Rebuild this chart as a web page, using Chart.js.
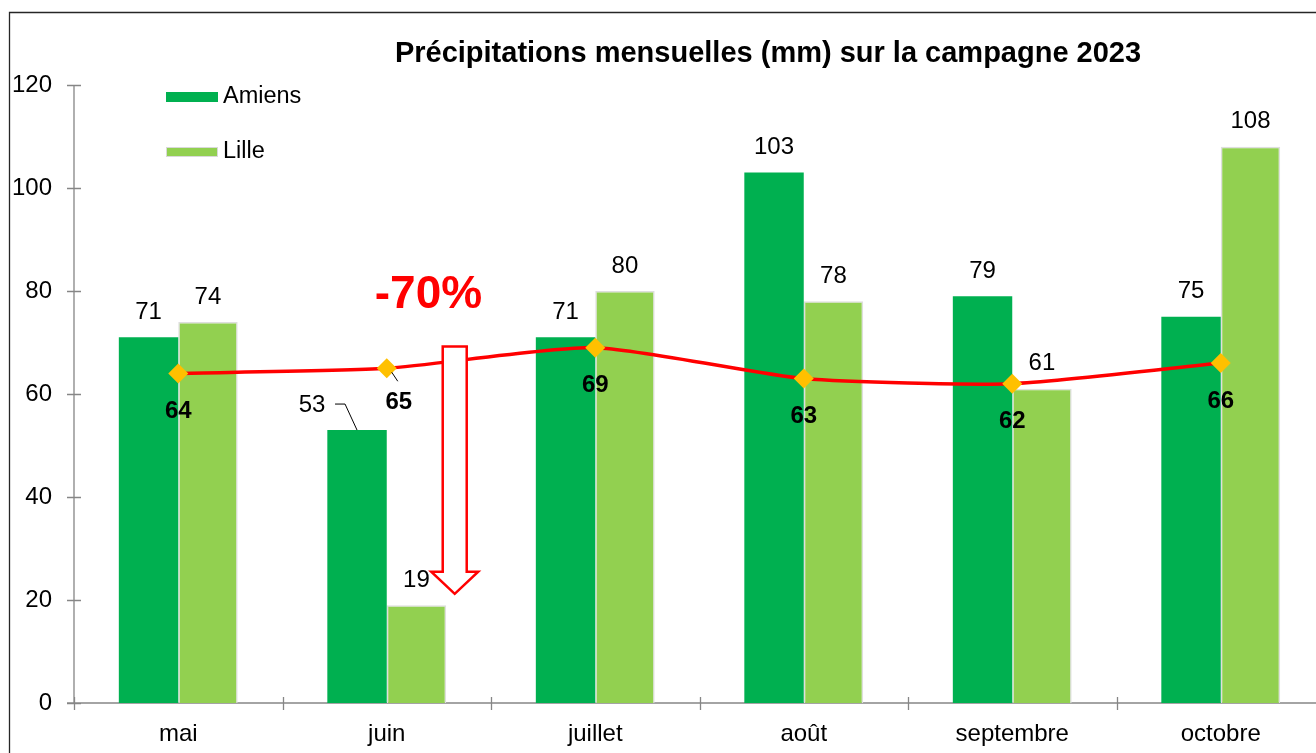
<!DOCTYPE html>
<html>
<head>
<meta charset="utf-8">
<script src="https://cdn.jsdelivr.net/npm/chart.js@4.4.1/dist/chart.umd.min.js"></script>
<style>
    html, body { margin: 0; padding: 0; background: #fff; overflow: hidden; }
    #wrap { position: absolute; left: 0; top: 0; width: 1340px; height: 753px; }
</style>
</head>
<body>
<div id="wrap"><canvas id="chart"></canvas></div>
<script>
const months = ['mai', 'juin', 'juillet', 'août', 'septembre', 'octobre'];
const amiens = [71, 53, 71, 103, 79, 75];
const lille = [74, 19, 80, 78, 61, 108];
const average = [64, 65, 69, 63, 62, 66];
const yTicks = [0, 20, 40, 60, 80, 100, 120];

const titleText = 'Précipitations mensuelles (mm) sur la campagne 2023';
const dropText = '-70%';
const FONT = 'Arial, "Liberation Sans", sans-serif';

// draws everything Excel put around the bars: frame, axes with cross ticks, labels, arrow, legend
const decorations = {
    id: 'decorations',
    beforeDatasetsDraw(chart) {
        const { ctx, chartArea: a, scales: { x, y } } = chart;
        ctx.save();
        // outer frame
        ctx.strokeStyle = '#262626';
        ctx.lineWidth = 1.3;
        ctx.beginPath();
        ctx.moveTo(9.5, 800);
        ctx.lineTo(9.5, 12.5);
        ctx.lineTo(1400, 12.5);
        ctx.stroke();

        // axes
        ctx.strokeStyle = '#868686';
        ctx.lineWidth = 1.3;
        ctx.beginPath();
        ctx.moveTo(a.left, a.top);
        ctx.lineTo(a.left, a.bottom);
        ctx.moveTo(a.left - 7, a.bottom);
        ctx.lineTo(a.right, a.bottom);
        yTicks.forEach(v => {
            const py = Math.round(y.getPixelForValue(v)) + 0.5;
            ctx.moveTo(a.left - 7, py);
            ctx.lineTo(a.left + 7, py);
        });
        const w = (a.right - a.left) / months.length;
        for (let i = 0; i <= months.length; i++) {
            const px = Math.round(a.left + i * w) + 0.5;
            ctx.moveTo(px, a.bottom - 6);
            ctx.lineTo(px, a.bottom + 7);
        }
        ctx.stroke();
        ctx.restore();
    },
    afterDatasetsDraw(chart) {
        const { ctx, chartArea: a, scales: { x, y } } = chart;
        const w = (a.right - a.left) / months.length;
        ctx.save();

        // bar labels
        ctx.font = '24px ' + FONT;
        ctx.fillStyle = '#000';
        ctx.textAlign = 'center';
        ctx.textBaseline = 'middle';
        [0, 1].forEach(di => {
            const meta = chart.getDatasetMeta(di);
            const vals = di === 0 ? amiens : lille;
            meta.data.forEach((bar, i) => {
                if (di === 0 && i === 1) {
                    // label pulled aside with a leader line
                    ctx.fillText(String(vals[i]), bar.x - 45, bar.y - 25);
                    ctx.strokeStyle = '#000';
                    ctx.lineWidth = 1;
                    ctx.beginPath();
                    ctx.moveTo(bar.x - 22, bar.y - 26);
                    ctx.lineTo(bar.x - 12, bar.y - 26);
                    ctx.lineTo(bar.x, bar.y);
                    ctx.stroke();
                } else {
                    ctx.fillText(String(vals[i]), bar.x, bar.y - 25);
                }
            });
        });

        // line labels
        ctx.font = 'bold 24px ' + FONT;
        const lineMeta = chart.getDatasetMeta(2);
        lineMeta.data.forEach((pt, i) => {
            if (i === 1) {
                ctx.fillText(String(average[i]), pt.x + 12, pt.y + 34);
                ctx.strokeStyle = '#000';
                ctx.lineWidth = 1;
                ctx.beginPath();
                ctx.moveTo(pt.x + 5, pt.y + 4);
                ctx.lineTo(pt.x + 11, pt.y + 13);
                ctx.stroke();
            } else {
                ctx.fillText(String(average[i]), pt.x, pt.y + 38);
            }
        });

        // drop arrow between juin and juillet
        const ax = x.getPixelForValue(1) + 0.326 * w;
        const top = y.getPixelForValue(69.2);
        const headTop = y.getPixelForValue(25.5);
        const tip = y.getPixelForValue(21.2);
        ctx.beginPath();
        ctx.moveTo(ax - 12, top);
        ctx.lineTo(ax + 12, top);
        ctx.lineTo(ax + 12, headTop);
        ctx.lineTo(ax + 23.5, headTop);
        ctx.lineTo(ax, tip);
        ctx.lineTo(ax - 23.5, headTop);
        ctx.lineTo(ax - 12, headTop);
        ctx.closePath();
        ctx.fillStyle = '#fff';
        ctx.fill();
        ctx.strokeStyle = '#ff0000';
        ctx.lineWidth = 2.5;
        ctx.stroke();

        ctx.font = 'bold 46px ' + FONT;
        ctx.fillStyle = '#ff0000';
        ctx.textBaseline = 'alphabetic';
        ctx.fillText(dropText, x.getPixelForValue(1) + 0.2 * w, y.getPixelForValue(76.7));

        // title
        ctx.font = 'bold 29px ' + FONT;
        ctx.fillStyle = '#000';
        ctx.fillText(titleText, 768, 62);

        // legend
        ctx.textAlign = 'left';
        ctx.textBaseline = 'middle';
        ctx.font = '23.5px ' + FONT;
        ctx.fillStyle = '#00B050';
        ctx.fillRect(166, 92, 52, 10);
        ctx.fillStyle = '#92D050';
        ctx.fillRect(166, 147, 52, 10);
        ctx.strokeStyle = '#d9d9d9';
        ctx.lineWidth = 1;
        ctx.strokeRect(166.5, 147.5, 51, 9);
        ctx.fillStyle = '#000';
        ctx.fillText('Amiens', 223, 97);
        ctx.fillText('Lille', 223, 152);
        ctx.restore();
    }
};

new Chart(document.getElementById('chart'), {
    type: 'bar',
    data: {
        labels: months,
        datasets: [
            {
                label: 'Amiens',
                data: amiens,
                backgroundColor: '#00B050',
                borderWidth: 0,
                categoryPercentage: 0.57,
                barPercentage: 1.0,
                order: 1
            },
            {
                label: 'Lille',
                data: lille,
                backgroundColor: '#92D050',
                borderColor: '#dedede',
                borderWidth: 1.5,
                categoryPercentage: 0.57,
                barPercentage: 1.0,
                order: 1
            },
            {
                type: 'line',
                label: 'Moyenne',
                data: average,
                borderColor: '#ff0000',
                borderWidth: 3.5,
                tension: 0.2,
                pointStyle: 'rectRot',
                pointRadius: 10,
                pointBackgroundColor: '#FFC000',
                pointBorderColor: '#FFC000',
                pointBorderWidth: 0,
                order: 0
            }
        ]
    },
    options: {
        responsive: true,
        maintainAspectRatio: false,
        animation: false,
        layout: { padding: { left: 0, top: 85, right: 15, bottom: 0 } },
        plugins: {
            legend: { display: false },
            title: { display: false },
            tooltip: { enabled: false }
        },
        scales: {
            x: {
                grid: { display: false },
                border: { display: false },
                ticks: {
                    color: '#000',
                    padding: 9,
                    font: { family: FONT, size: 24 }
                },
                afterFit: s => { s.height = 50; }
            },
            y: {
                min: 0,
                max: 120,
                grid: { display: false },
                border: { display: false },
                ticks: {
                    stepSize: 20,
                    color: '#000',
                    padding: 14,
                    font: { family: FONT, size: 24 }
                },
                afterFit: s => { s.width = 74; }
            }
        }
    },
    plugins: [decorations]
});
</script>
</body>
</html>
